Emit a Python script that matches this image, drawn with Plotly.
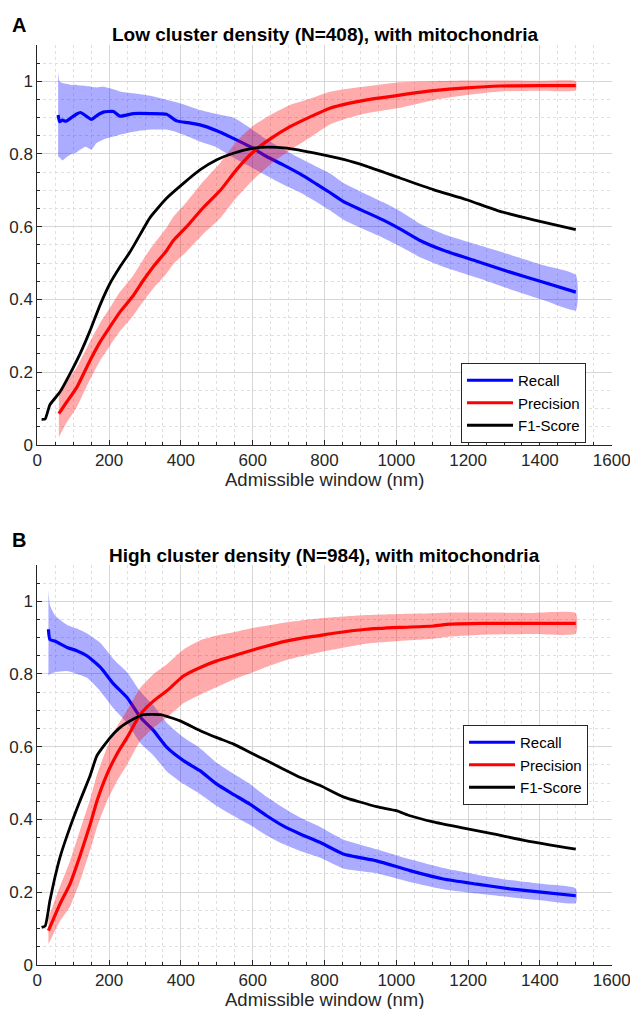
import plotly.graph_objects as go

W, H = 630, 1009

# ---------------- Panel A: Low cluster density (N=408) ----------------
a_rec_x = [58, 62, 70, 80, 95, 110, 120, 135, 151, 165, 184, 212, 230, 268, 314, 360, 388, 420, 453, 500,
           546, 593, 639, 685, 732, 778, 815, 853, 900, 964, 1010, 1066, 1131, 1224, 1317, 1410, 1500]
a_rec = [0.907, 0.889, 0.893, 0.890, 0.900, 0.910, 0.914, 0.905, 0.895, 0.905, 0.915, 0.917, 0.904, 0.911,
         0.911, 0.909, 0.891, 0.886, 0.880, 0.864, 0.843, 0.820, 0.793, 0.770, 0.745, 0.717, 0.694, 0.669,
         0.647, 0.618, 0.594, 0.562, 0.535, 0.505, 0.475, 0.447, 0.420]
a_rec_hi = [1.026, 0.999, 0.995, 0.993, 0.990, 0.990, 0.988, 0.987, 0.985, 0.983, 0.985, 0.978, 0.972, 0.967,
            0.960, 0.949, 0.942, 0.932, 0.921, 0.910, 0.900, 0.871, 0.839, 0.813, 0.788, 0.765, 0.747, 0.720,
            0.697, 0.667, 0.643, 0.608, 0.580, 0.551, 0.523, 0.494, 0.467]
a_rec_lo = [0.793, 0.790, 0.782, 0.790, 0.800, 0.805, 0.812, 0.820, 0.812, 0.830, 0.840, 0.848, 0.853, 0.861,
            0.867, 0.867, 0.860, 0.848, 0.834, 0.818, 0.790, 0.765, 0.740, 0.716, 0.694, 0.668, 0.645, 0.619,
            0.597, 0.569, 0.546, 0.516, 0.490, 0.460, 0.428, 0.398, 0.370]

a_pre_x = [60, 80, 110, 147, 175, 202, 230, 267, 295, 323, 360, 379, 416, 460, 510, 555, 602, 650, 704, 760,
           815, 870, 918, 1010, 1103, 1196, 1289, 1400, 1500]
a_pre = [0.086, 0.115, 0.158, 0.232, 0.283, 0.324, 0.365, 0.410, 0.452, 0.490, 0.534, 0.562, 0.600, 0.650,
         0.700, 0.757, 0.806, 0.842, 0.875, 0.902, 0.926, 0.940, 0.949, 0.962, 0.974, 0.982, 0.987, 0.988, 0.988]
a_pre_hi = [0.144, 0.172, 0.213, 0.284, 0.335, 0.376, 0.420, 0.466, 0.510, 0.550, 0.597, 0.627, 0.668, 0.722,
            0.776, 0.834, 0.878, 0.908, 0.935, 0.952, 0.971, 0.980, 0.986, 0.997, 1.000, 1.002, 1.002, 1.001, 1.000]
a_pre_lo = [0.021, 0.058, 0.103, 0.180, 0.232, 0.272, 0.312, 0.355, 0.394, 0.430, 0.471, 0.497, 0.532, 0.578,
            0.624, 0.680, 0.730, 0.772, 0.810, 0.845, 0.881, 0.900, 0.912, 0.927, 0.948, 0.962, 0.972, 0.974, 0.975]

a_f1_x = [12, 22, 35, 63, 91, 119, 147, 175, 202, 230, 258, 277, 314, 360, 407, 453, 500, 546, 602, 640,
          695, 732, 770, 853, 918, 1010, 1103, 1196, 1289, 1382, 1500]
a_f1 = [0.070, 0.071, 0.110, 0.145, 0.195, 0.250, 0.314, 0.385, 0.443, 0.489, 0.530, 0.562, 0.625, 0.678,
        0.719, 0.756, 0.784, 0.802, 0.816, 0.819, 0.816, 0.810, 0.803, 0.785, 0.766, 0.734, 0.702, 0.674,
        0.642, 0.619, 0.592]

# ---------------- Panel B: High cluster density (N=984) ----------------
b_rec_x = [31, 35, 50, 83, 110, 138, 176, 213, 250, 287, 324, 361, 408, 453, 500, 546, 592, 639, 685, 732,
           787, 852, 945, 1038, 1131, 1224, 1317, 1410, 1500]
b_rec = [0.923, 0.895, 0.890, 0.873, 0.864, 0.850, 0.818, 0.772, 0.735, 0.681, 0.644, 0.598, 0.561, 0.534,
         0.497, 0.469, 0.442, 0.410, 0.382, 0.360, 0.337, 0.305, 0.286, 0.259, 0.236, 0.222, 0.209, 0.199, 0.190]
b_rec_hi = [1.030, 0.990, 0.960, 0.935, 0.925, 0.912, 0.885, 0.840, 0.805, 0.752, 0.713, 0.665, 0.625, 0.596,
            0.556, 0.526, 0.497, 0.462, 0.432, 0.405, 0.380, 0.345, 0.318, 0.290, 0.266, 0.248, 0.233, 0.222, 0.210]
b_rec_lo = [0.795, 0.800, 0.805, 0.808, 0.800, 0.790, 0.752, 0.705, 0.665, 0.610, 0.575, 0.532, 0.497, 0.470,
            0.437, 0.410, 0.385, 0.356, 0.332, 0.313, 0.295, 0.265, 0.252, 0.228, 0.208, 0.196, 0.186, 0.177, 0.170]

b_pre_x = [31, 63, 91, 119, 147, 166, 194, 222, 250, 287, 324, 361, 408, 454, 500, 547, 593, 640, 686, 733,
           788, 825, 918, 1010, 1103, 1150, 1243, 1382, 1500]
b_pre = [0.094, 0.167, 0.222, 0.300, 0.385, 0.450, 0.524, 0.580, 0.625, 0.689, 0.726, 0.754, 0.795, 0.818,
         0.836, 0.850, 0.864, 0.877, 0.889, 0.898, 0.906, 0.912, 0.923, 0.928, 0.932, 0.937, 0.939, 0.939, 0.939]
b_pre_hi = [0.130, 0.215, 0.285, 0.370, 0.455, 0.522, 0.597, 0.655, 0.700, 0.762, 0.800, 0.827, 0.868, 0.893,
            0.906, 0.915, 0.925, 0.933, 0.941, 0.947, 0.953, 0.956, 0.962, 0.965, 0.967, 0.969, 0.969, 0.968, 0.967]
b_pre_lo = [0.057, 0.120, 0.160, 0.230, 0.315, 0.378, 0.450, 0.505, 0.550, 0.616, 0.652, 0.680, 0.720, 0.743,
            0.764, 0.785, 0.802, 0.820, 0.836, 0.848, 0.860, 0.867, 0.884, 0.891, 0.897, 0.903, 0.908, 0.910, 0.911]

b_f1_x = [12, 22, 35, 49, 63, 91, 119, 147, 166, 203, 231, 268, 296, 343, 398, 454, 500, 547, 593, 640,
          686, 733, 788, 852, 945, 1000, 1038, 1103, 1177, 1270, 1363, 1500]
b_f1 = [0.103, 0.107, 0.176, 0.240, 0.295, 0.378, 0.451, 0.520, 0.575, 0.625, 0.653, 0.676, 0.688, 0.688,
        0.671, 0.644, 0.625, 0.607, 0.584, 0.561, 0.538, 0.515, 0.493, 0.462, 0.435, 0.424, 0.410, 0.393,
        0.378, 0.360, 0.341, 0.318]

series_names = ["Recall", "Precision", "F1-Score"]
panel_titles = ["Low cluster density (N=408), with mitochondria",
                "High cluster density (N=984), with mitochondria"]
panel_letters = ["A", "B"]
x_title = "Admissible window (nm)"

FONT = "Liberation Sans, Arial, Helvetica, sans-serif"
INK = "#262626"
BLUE, RED, BLACK = "#0000ff", "#ff0000", "#000000"
BLUE_FILL, RED_FILL = "rgba(0,0,255,0.33)", "rgba(255,0,0,0.33)"

fig = go.Figure()


def band(x, lo, hi, color, xa, ya):
    return go.Scatter(x=list(x) + list(x)[::-1], y=list(hi) + list(lo)[::-1], fill="toself",
                      fillcolor=color, line=dict(width=0, shape="spline", smoothing=0.5), mode="lines",
                      hoverinfo="skip", showlegend=False, xaxis=xa, yaxis=ya)


panels = [
    ("x", "y", "legend", a_rec_x, a_rec, a_rec_lo, a_rec_hi, a_pre_x, a_pre, a_pre_lo, a_pre_hi, a_f1_x, a_f1),
    ("x2", "y2", "legend2", b_rec_x, b_rec, b_rec_lo, b_rec_hi, b_pre_x, b_pre, b_pre_lo, b_pre_hi, b_f1_x, b_f1),
]
for (xa, ya, lg, rx, r, rlo, rhi, px_, p, plo, phi, fx, f) in panels:
    fig.add_trace(band(rx, rlo, rhi, BLUE_FILL, xa, ya))
    fig.add_trace(go.Scatter(x=rx, y=r, mode="lines",
                             line=dict(color=BLUE, width=3.2, shape="spline", smoothing=0.5),
                             name=series_names[0], legend=lg, xaxis=xa, yaxis=ya))
    fig.add_trace(band(px_, plo, phi, RED_FILL, xa, ya))
    fig.add_trace(go.Scatter(x=px_, y=p, mode="lines",
                             line=dict(color=RED, width=3.2, shape="spline", smoothing=0.5),
                             name=series_names[1], legend=lg, xaxis=xa, yaxis=ya))
    fig.add_trace(go.Scatter(x=fx, y=f, mode="lines",
                             line=dict(color=BLACK, width=2.8, shape="spline", smoothing=0.5),
                             name=series_names[2], legend=lg, xaxis=xa, yaxis=ya))

x_dom = [37.3 / W, 611.7 / W]
yA = [1 - 444.8 / H, 1 - 44.9 / H]
yB = [1 - 964.8 / H, 1 - 564.9 / H]

common = dict(showline=True, linecolor=INK, linewidth=1, ticks="inside", ticklen=5, tickcolor=INK,
              tickwidth=1, showgrid=True, gridcolor="#d6d6d6", gridwidth=1, zeroline=False, mirror=False,
              tickfont=dict(family=FONT, size=17, color=INK), automargin=False)
xcommon = dict(common, range=[0, 1600], tick0=0, dtick=200, ticklabeloverflow="allow",
               minor=dict(dtick=50, ticks="inside", ticklen=3, tickcolor=INK, showgrid=True,
                          gridcolor="#e0e0e0", griddash="dot", gridwidth=1))
ycommon = dict(common, range=[0, 1.1], tick0=0, dtick=0.2,
               minor=dict(dtick=0.05, ticks="inside", ticklen=3, tickcolor=INK, showgrid=True,
                          gridcolor="#e0e0e0", griddash="dot", gridwidth=1))

legend_common = dict(bgcolor="white", bordercolor=INK, borderwidth=1, xanchor="left", yanchor="middle",
                     font=dict(family=FONT, size=15, color="#000000"), tracegroupgap=0, itemwidth=46)

fig.update_layout(
    width=W, height=H, margin=dict(l=0, r=0, t=0, b=0),
    paper_bgcolor="white", plot_bgcolor="white", showlegend=True,
    xaxis=dict(xcommon, domain=x_dom, anchor="y"),
    yaxis=dict(ycommon, domain=yA, anchor="x"),
    xaxis2=dict(xcommon, domain=x_dom, anchor="y2"),
    yaxis2=dict(ycommon, domain=yB, anchor="x2"),
    legend=dict(legend_common, x=461 / W, y=1 - 403 / H),
    legend2=dict(legend_common, x=463 / W, y=1 - 765 / H),
)

cx = (x_dom[0] + x_dom[1]) / 2
for title, letter, ty, ly, xty in [(panel_titles[0], panel_letters[0], 35, 25, 479),
                                   (panel_titles[1], panel_letters[1], 555, 540, 999)]:
    fig.add_annotation(text="<b>%s</b>" % title, x=cx, y=1 - ty / H, xref="paper", yref="paper",
                       xanchor="center", yanchor="middle", showarrow=False,
                       font=dict(family=FONT, size=19, color="#000000"))
    fig.add_annotation(text="<b>%s</b>" % letter, x=19 / W, y=1 - ly / H, xref="paper", yref="paper",
                       xanchor="center", yanchor="middle", showarrow=False,
                       font=dict(family=FONT, size=20, color="#000000"))
    fig.add_annotation(text=x_title, x=cx, y=1 - xty / H, xref="paper", yref="paper",
                       xanchor="center", yanchor="middle", showarrow=False,
                       font=dict(family=FONT, size=18.5, color=INK))

fig.write_html("out.html", config={"displayModeBar": False},
               post_script="document.body.style.margin='0px';document.body.style.padding='0px';")
